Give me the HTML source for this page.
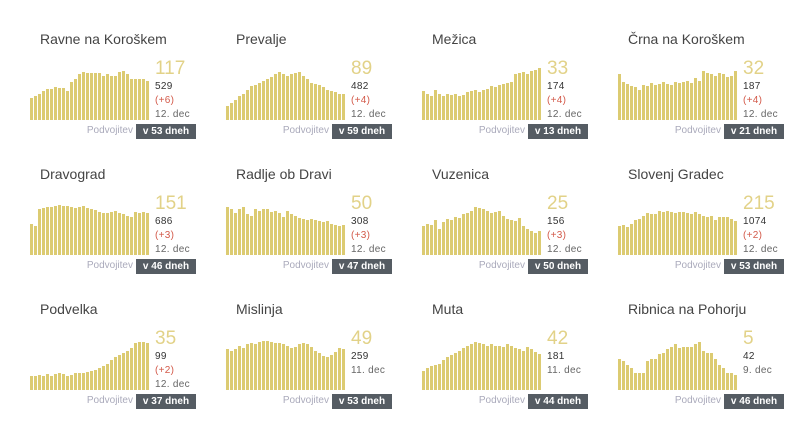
<!DOCTYPE html>
<html><head><meta charset="utf-8"><style>
body{margin:0;width:800px;height:419px;background:#fff;font-family:"Liberation Sans",sans-serif;position:relative;overflow:hidden}
.c{position:absolute;width:196px;height:135px}
.t{position:absolute;left:20px;top:0;font-size:14px;color:#444;white-space:nowrap}
.ch{position:absolute;left:0;top:37px;width:122px;height:52px}
.b{position:absolute;bottom:0;width:3px;background:#dccb72}
.big{position:absolute;left:125px;top:27px;font-size:19px;color:#e2d288}
.n{position:absolute;left:125px;font-size:10px;color:#333;white-space:nowrap;letter-spacing:.3px}
.d{color:#d35a4a}
.dt{color:#666}
.p{position:absolute;top:94px;font-size:10px;color:#aab}
.bd{position:absolute;top:93px;width:60px;height:15px;background:#555c63;color:#fff;font-size:10px;font-weight:bold;line-height:15px;text-align:center}
</style></head><body>
<div id="r"></div>
<script>
const D=[
["Ravne na Koroškem","117","529","(+6)","12. dec","53",[.45,.5,.55,.6,.65,.65,.68,.66,.66,.6,.8,.85,.95,1,.98,.98,.98,.98,.92,.95,.92,.92,1,1.03,.95,.85,.85,.85,.85,.82]],
["Prevalje","89","482","(+4)","12. dec","59",[.3,.35,.42,.5,.55,.62,.7,.72,.78,.82,.85,.9,.95,1,.95,.92,.95,.98,1,.92,.85,.78,.75,.72,.68,.62,.6,.58,.55,.55]],
["Mežica","33","174","(+4)","12. dec","13",[.6,.55,.5,.62,.55,.5,.55,.52,.55,.5,.52,.58,.6,.62,.58,.62,.65,.7,.68,.72,.75,.78,.8,.95,.98,1,.95,1.02,1.05,1.1]],
["Črna na Koroškem","32","187","(+4)","12. dec","21",[.95,.8,.75,.7,.68,.62,.72,.7,.78,.72,.75,.8,.75,.72,.8,.78,.8,.82,.78,.88,.82,1.02,.98,.95,.92,.98,.95,.9,.92,1.02]],
["Dravograd","151","686","(+3)","12. dec","46",[.65,.6,.95,.98,1,1,1.02,1.04,1.02,1.02,1,.98,1,1.02,.98,.96,.94,.9,.88,.88,.9,.92,.88,.85,.82,.8,.9,.88,.9,.88]],
["Radlje ob Dravi","50","308","(+3)","12. dec","47",[1,.95,.88,.95,1,.85,.82,.95,.92,.95,.95,.9,.92,.88,.8,.92,.85,.82,.78,.75,.72,.75,.72,.7,.68,.7,.65,.62,.6,.62]],
["Vuzenica","25","156","(+3)","12. dec","50",[.6,.65,.62,.72,.55,.68,.75,.72,.8,.78,.85,.88,.92,1,.98,.95,.92,.88,.9,.92,.82,.75,.72,.7,.78,.6,.55,.5,.45,.5]],
["Slovenj Gradec","215","1074","(+2)","12. dec","53",[.6,.62,.58,.65,.72,.75,.82,.88,.86,.85,.92,.9,.92,.9,.88,.9,.9,.88,.86,.9,.85,.82,.8,.82,.72,.8,.8,.8,.75,.7]],
["Podvelka","35","99","(+2)","12. dec","37",[.3,.3,.32,.3,.34,.3,.33,.35,.33,.3,.32,.35,.35,.35,.38,.4,.42,.45,.5,.55,.62,.68,.72,.78,.82,.88,.98,1,1,.98]],
["Mislinja","49","259","","11. dec","53",[.85,.82,.85,.92,.88,.95,.98,.95,1,1.02,1.02,1,.98,.98,.95,.92,.88,.9,.95,.98,.95,.9,.82,.78,.7,.68,.72,.8,.88,.85]],
["Muta","42","181","","11. dec","44",[.4,.45,.5,.52,.55,.62,.68,.72,.78,.82,.88,.92,.95,1,.98,.95,.92,.95,.92,.92,.9,.95,.92,.88,.85,.82,.9,.85,.8,.75]],
["Ribnica na Pohorju","5","42","","9. dec","46",[.65,.6,.52,.45,.36,.36,.36,.6,.65,.65,.75,.78,.85,.9,.95,.88,.9,.9,.9,.95,1,.82,.78,.78,.65,.52,.45,.36,.36,.32]]];
let h="";
D.forEach((d,i)=>{const x=20+(i%4)*196,y=31+Math.floor(i/4)*135;
let bars="";d[6].forEach((v,j)=>{bars+=`<div class="b" style="left:${10+j*4}px;height:${Math.min(52,v*48)}px"></div>`});
const nd=d[3]==="";
h+=`<div class="c" style="left:${x}px;top:${y}px"><div class="t">${d[0]}</div><div class="ch">${bars}</div>
<div class="big" style="left:135px">${d[1]}</div>
<div class="n" style="left:135px;top:50px">${d[2]}</div>
${nd?"":`<div class="n d" style="left:135px;top:64px">${d[3]}</div>`}
<div class="n dt" style="left:135px;top:${nd?64:78}px">${d[4]}</div>
<div class="p" style="right:83px">Podvojitev</div><div class="bd" style="left:116px">v ${d[5]} dneh</div></div>`});
document.getElementById("r").innerHTML=h;
</script>
</body></html>
